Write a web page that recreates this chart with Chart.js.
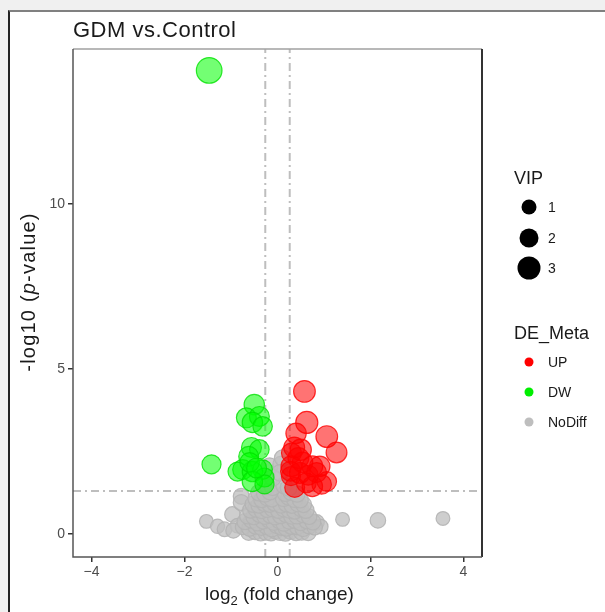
<!DOCTYPE html>
<html>
<head>
<meta charset="utf-8">
<script src="https://cdn.jsdelivr.net/npm/chart.js@4.4.1/dist/chart.umd.min.js"></script>
<style>
  html, body { margin: 0; padding: 0; background: #f0f0f0; width: 605px; height: 612px; overflow: hidden; }
  #panel { position: absolute; left: 8px; top: 10px; width: 600px; height: 610px; background: #fff;
           border-left: 2px solid #222; border-top: 2px solid #808080; }
  #volcano { position: absolute; left: 0; top: 0; }
</style>
</head>
<body>
<div id="panel"></div>
<canvas id="volcano" width="605" height="612"></canvas>
<script>
// significant up-regulated metabolites
const upX   = [0.58, 0.63, 1.06, 1.27, 0.40, 0.36, 0.30, 0.50, 0.45, 0.30, 0.54, 0.75, 0.91, 0.28, 0.48, 0.84, 1.06, 0.37, 0.75, 0.62, 0.95, 0.29, 0.66];
const upY   = [4.32, 3.38, 2.95, 2.47, 3.05, 2.62, 2.45, 2.55, 2.30, 2.05, 2.17, 2.05, 2.05, 1.90, 1.85, 1.86, 1.59, 1.41, 1.44, 1.55, 1.50, 1.75, 1.78];
const upVip = [2.2, 2.3, 2.2, 2.0, 1.9, 2.0, 1.8, 2.1, 2.0, 2.0, 1.9, 2.0, 1.9, 1.8, 2.0, 1.8, 1.7, 1.8, 1.9, 1.8, 1.7, 1.6, 1.8];

// significant down-regulated metabolites
const dwX   = [-1.47, -1.42, -0.50, -0.67, -0.39, -0.54, -0.32, -0.56, -0.39, -0.62, -0.75, -0.86, -0.54, -0.32, -0.28, -0.54, -0.28, -0.60, -0.45];
const dwY   = [14.05, 2.11, 3.92, 3.52, 3.56, 3.38, 3.26, 2.62, 2.56, 2.35, 1.95, 1.89, 1.89, 1.95, 1.71, 1.59, 1.50, 2.17, 2.00];
const dwVip = [3.1, 1.6, 1.9, 1.8, 1.8, 1.9, 1.7, 1.8, 1.7, 1.8, 1.8, 1.6, 1.9, 1.7, 1.6, 1.9, 1.6, 1.7, 1.8];

// not different (outliers first, then the dense cloud row by row)
const ndX = [-1.53, -1.29, -1.14, -0.97, -0.78, -0.78, 1.40, 2.16, 3.56, 0.84, 0.93, -0.86, -0.95,
  -0.62, -0.48, -0.36, -0.25, -0.14, -0.04, 0.06, 0.17, 0.28, 0.40, 0.52, 0.66,
  -0.74, -0.60, -0.47, -0.35, -0.23, -0.12, -0.02, 0.09, 0.19, 0.30, 0.42, 0.55, 0.68, 0.80,
  -0.70, -0.56, -0.43, -0.31, -0.19, -0.08, 0.04, 0.14, 0.25, 0.37, 0.50, 0.63, 0.76,
  -0.64, -0.51, -0.39, -0.27, -0.16, -0.05, 0.07, 0.18, 0.30, 0.42, 0.55, 0.68,
  -0.58, -0.46, -0.34, -0.22, -0.11, 0.02, 0.13, 0.25, 0.37, 0.50, 0.61,
  -0.52, -0.40, -0.28, -0.17, -0.07, 0.08, 0.19, 0.31, 0.44, 0.56,
  -0.46, -0.34, -0.22, -0.12, 0.13, 0.24, 0.37, 0.49,
  -0.40, -0.27, -0.16, 0.17, 0.29, 0.42,
  -0.22, -0.10, 0.14, 0.24,
  -0.17, 0.08, 0.11, -0.10, 0.05];
const ndY = [0.38, 0.23, 0.14, 0.59, 1.14, 0.95, 0.44, 0.41, 0.47, 0.35, 0.22, 0.25, 0.10,
  0.04, 0.07, 0.02, 0.06, 0.03, 0.08, 0.05, 0.02, 0.07, 0.04, 0.06, 0.03,
  0.21, 0.17, 0.24, 0.19, 0.22, 0.16, 0.25, 0.20, 0.18, 0.23, 0.21, 0.17, 0.24, 0.20,
  0.37, 0.41, 0.34, 0.39, 0.42, 0.36, 0.40, 0.33, 0.38, 0.41, 0.35, 0.39, 0.36,
  0.55, 0.52, 0.58, 0.54, 0.57, 0.51, 0.56, 0.59, 0.53, 0.55, 0.58, 0.52,
  0.72, 0.76, 0.70, 0.74, 0.77, 0.71, 0.75, 0.73, 0.69, 0.76, 0.72,
  0.90, 0.87, 0.93, 0.89, 0.94, 0.88, 0.91, 0.86, 0.92, 0.89,
  1.07, 1.04, 1.10, 1.06, 1.08, 1.11, 1.05, 1.03,
  1.25, 1.22, 1.28, 1.24, 1.27, 1.21,
  1.45, 1.42, 1.47, 1.40,
  2.05, 2.10, 2.30, 1.70, 1.85];
const ndVip = [0.4, 0.5, 0.6, 0.8, 0.9, 0.9, 0.4, 0.8, 0.4, 0.8, 0.6, 0.6, 0.7,
  0.8, 0.9, 0.8, 1.0, 0.9, 0.8, 1.0, 0.9, 0.8, 0.9, 1.0, 0.8,
  0.8, 0.9, 1.0, 0.8, 0.9, 1.0, 0.8, 0.9, 1.0, 0.9, 0.8, 1.0, 0.9, 0.8,
  0.9, 0.8, 1.0, 0.9, 0.8, 1.0, 0.9, 1.0, 0.8, 0.9, 1.0, 0.8, 0.9,
  1.0, 0.9, 0.8, 1.0, 0.9, 0.8, 1.0, 0.9, 0.8, 1.0, 0.9, 0.8,
  0.9, 1.0, 0.8, 0.9, 1.0, 0.9, 0.8, 1.0, 0.9, 0.8, 1.0,
  1.0, 0.9, 1.0, 0.8, 0.9, 1.0, 0.9, 0.8, 1.0, 0.9,
  1.0, 0.9, 1.0, 0.9, 1.0, 0.9, 1.0, 0.9,
  1.0, 1.1, 1.0, 1.1, 1.0, 1.0,
  1.0, 1.1, 1.0, 1.1,
  1.1, 1.1, 1.0, 1.0, 1.0];

const xTicks = [-4, -2, 0, 2, 4];
const yTicks = [0, 5, 10];
const fcCut = [-0.263, 0.263];
const pCut = 1.301;
const vipLegend = [1, 2, 3];
const metaLegend = ['UP', 'DW', 'NoDiff'];
const metaColors = ['#ff0000', '#00ee00', '#bebebe'];

const FONT = '"Liberation Sans", Arial, Helvetica, sans-serif';

// vip -> bubble radius in px
function rOf(vip) { return 6 + 2.2 * vip; }

function points(xs, ys, vips) {
  return xs.map((x, i) => ({ x: x, y: ys[i], r: rOf(vips[i]) }));
}

function fmt(v) { return v < 0 ? '\u2212' + Math.abs(v) : String(v); }

// dashed cut-off lines, under the points
const cutLines = {
  id: 'cutLines',
  beforeDatasetsDraw(chart) {
    const { ctx, chartArea: a, scales: { x, y } } = chart;
    ctx.save();
    ctx.strokeStyle = '#bebebe';
    ctx.lineWidth = 2;
    ctx.setLineDash([8, 4, 2, 4]);
    fcCut.forEach(v => {
      const px = x.getPixelForValue(v);
      ctx.beginPath(); ctx.moveTo(px, a.bottom); ctx.lineTo(px, a.top); ctx.stroke();
    });
    const py = y.getPixelForValue(pCut);
    ctx.beginPath(); ctx.moveTo(a.left, py); ctx.lineTo(a.right, py); ctx.stroke();
    ctx.restore();
  }
};

// axes frame, titles and the two legends
const decor = {
  id: 'decor',
  afterDraw(chart) {
    const { ctx, chartArea: a } = chart;
    ctx.save();
    // frame
    ctx.lineWidth = 1.5;
    ctx.strokeStyle = '#a0a0a0';
    ctx.beginPath(); ctx.moveTo(a.left, a.top); ctx.lineTo(a.right, a.top); ctx.stroke();
    ctx.strokeStyle = '#333';
    ctx.lineWidth = 2;
    ctx.beginPath(); ctx.moveTo(a.right, a.top); ctx.lineTo(a.right, a.bottom); ctx.stroke();
    ctx.strokeStyle = '#555';
    ctx.lineWidth = 1.5;
    ctx.beginPath(); ctx.moveTo(a.left, a.top); ctx.lineTo(a.left, a.bottom); ctx.lineTo(a.right, a.bottom); ctx.stroke();

    // title
    ctx.fillStyle = '#1a1a1a';
    ctx.textAlign = 'left';
    ctx.textBaseline = 'alphabetic';
    ctx.font = '22px ' + FONT;
    ctx.letterSpacing = '0.5px';
    ctx.fillText('GDM vs.Control', 73, 37);
    ctx.letterSpacing = '0px';

    // x title: log2 (fold change)
    ctx.font = '19px ' + FONT;
    const w1 = ctx.measureText('log').width;
    const w3 = ctx.measureText(' (fold change)').width;
    ctx.font = '13px ' + FONT;
    const w2 = ctx.measureText('2').width;
    let tx = (a.left + a.right) / 2 - (w1 + w2 + w3) / 2 + 2;
    ctx.font = '19px ' + FONT;
    ctx.fillText('log', tx, 600);
    ctx.font = '13px ' + FONT;
    ctx.fillText('2', tx + w1, 605);
    ctx.font = '19px ' + FONT;
    ctx.fillText(' (fold change)', tx + w1 + w2, 600);

    // y title: -log10 (p-value)
    ctx.save();
    ctx.translate(35, 292);
    ctx.rotate(-Math.PI / 2);
    ctx.letterSpacing = '1.2px';
    const parts = [['-log10 (', '20px '], ['p', 'italic 20px '], ['-value)', '20px ']];
    let total = 0;
    parts.forEach(p => { ctx.font = p[1] + FONT; total += ctx.measureText(p[0]).width; });
    let ty = -total / 2;
    parts.forEach(p => {
      ctx.font = p[1] + FONT;
      ctx.fillText(p[0], ty, 0);
      ty += ctx.measureText(p[0]).width;
    });
    ctx.restore();

    // VIP legend
    ctx.fillStyle = '#1a1a1a';
    ctx.font = '18px ' + FONT;
    ctx.fillText('VIP', 514, 184);
    const vipY = [207, 238, 268];
    const vipR = [7.5, 9.5, 11.5];
    vipLegend.forEach((v, i) => {
      ctx.beginPath();
      ctx.arc(529, vipY[i], vipR[i], 0, Math.PI * 2);
      ctx.fillStyle = '#000';
      ctx.fill();
      ctx.fillStyle = '#1a1a1a';
      ctx.font = '14px ' + FONT;
      ctx.textBaseline = 'middle';
      ctx.fillText(String(v), 548, vipY[i] + 1);
      ctx.textBaseline = 'alphabetic';
    });

    // DE_Meta legend
    ctx.font = '18px ' + FONT;
    ctx.fillText('DE_Meta', 514, 339);
    const metaY = [362, 392, 422];
    metaLegend.forEach((m, i) => {
      ctx.beginPath();
      ctx.arc(529, metaY[i], 4.5, 0, Math.PI * 2);
      ctx.fillStyle = metaColors[i];
      ctx.fill();
      ctx.fillStyle = '#1a1a1a';
      ctx.font = '14px ' + FONT;
      ctx.textBaseline = 'middle';
      ctx.fillText(m, 548, metaY[i] + 1);
      ctx.textBaseline = 'alphabetic';
    });
    ctx.restore();
  }
};

const ctx = document.getElementById('volcano').getContext('2d');
new Chart(ctx, {
  type: 'bubble',
  data: {
    datasets: [
      {
        label: 'UP',
        data: points(upX, upY, upVip),
        backgroundColor: 'rgba(255,0,0,0.55)',
        borderColor: 'rgba(255,0,0,0.8)',
        borderWidth: 1.2
      },
      {
        label: 'DW',
        data: points(dwX, dwY, dwVip),
        backgroundColor: 'rgba(0,255,0,0.55)',
        borderColor: 'rgba(0,225,0,0.8)',
        borderWidth: 1.2
      },
      {
        label: 'NoDiff',
        data: points(ndX, ndY, ndVip),
        backgroundColor: 'rgba(190,190,190,0.75)',
        borderColor: 'rgba(180,180,180,0.9)',
        borderWidth: 1.2
      }
    ]
  },
  options: {
    responsive: false,
    animation: false,
    layout: { padding: { left: 0, top: 49, right: 123, bottom: 0 } },
    plugins: { legend: { display: false }, tooltip: { enabled: false }, title: { display: false } },
    scales: {
      x: {
        type: 'linear',
        min: -4.4,
        max: 4.4,
        afterBuildTicks: s => { s.ticks = xTicks.map(v => ({ value: v })); },
        afterFit: s => { s.height = 55; },
        border: { display: false },
        grid: { drawOnChartArea: false, drawTicks: true, tickLength: 5, color: '#333', lineWidth: 1.5 },
        ticks: { color: '#4d4d4d', font: { size: 14, family: FONT }, padding: 2, maxRotation: 0, callback: v => fmt(v) }
      },
      y: {
        type: 'linear',
        min: -0.7,
        max: 14.7,
        afterBuildTicks: s => { s.ticks = yTicks.map(v => ({ value: v })); },
        afterFit: s => { s.width = 73; },
        border: { display: false },
        grid: { drawOnChartArea: false, drawTicks: true, tickLength: 5, color: '#333', lineWidth: 1.5 },
        ticks: { color: '#4d4d4d', font: { size: 14, family: FONT }, padding: 3, callback: v => fmt(v) }
      }
    }
  },
  plugins: [cutLines, decor]
});
</script>
</body>
</html>
